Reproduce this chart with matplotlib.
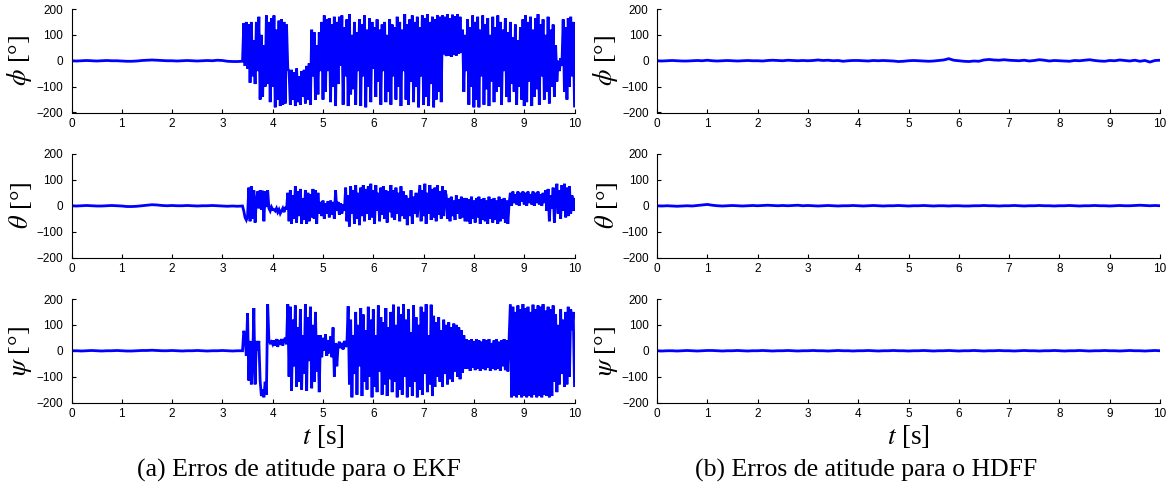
import numpy as np
import matplotlib
matplotlib.use("Agg")
import matplotlib.pyplot as plt

plt.rcParams['mathtext.fontset'] = 'stix'
plt.rcParams['font.family'] = ['Liberation Sans', 'DejaVu Sans']

# ---------------------------------------------------------------------------
# Attitude errors [deg]
# EKF: quiet phase sampled every 0.1 s from 0 to 3.4 s, then a divergent
# phase sampled every 0.025 s from 3.425 s to 10 s.
# HDFF: sampled every 0.1 s from 0 to 10 s.
# ---------------------------------------------------------------------------
ekf_phi_quiet = [0, -1, 0, 1, 0, -1, 0, 1, 0, 0, -1, -2, -2, -1, 1, 2, 3, 2,
                 1, 0, 0, -1, 0, 1, 0, -1, 0, 1, 0, 2, 1, -2, -3, -3, -2]
ekf_theta_quiet = [0, -1, 0, 1, 0, -1, -1, 0, 1, 0, -1, -3, -3, -2, 0, 2, 4, 3,
                   1, 0, 1, 0, 0, 1, 0, -1, 0, 0, 1, 0, -1, -2, -1, -2, -1]
ekf_psi_quiet = [0, 0, -1, 0, 1, 0, -1, 0, 0, 1, 0, -1, -1, 0, 1, 1, 2, 1,
                 0, 0, 1, 0, -1, 0, 0, 1, 0, -1, 0, 0, 1, 0, -1, 0, 0]

ekf_phi_div = [
    145, -20, 150, -30, 140, -85, 150, -60, 80, -90, 150, -40,
    170, -150, 100, -140, 60, -100, 175, -90, 150, -160, 165, -100,
    175, -180, 120, -150, 155, -175, 160, -170, 150, -165, 140, -30,
    -40, -170, -35, -150, -45, -175, -30, -160, -60, -170, -40, -140,
    -35, -165, -20, -150, -10, -170,
    120, -60, 110, -150, 60, -130, 110, -40, 150, -150,
    175, -120, 160, -40, 165, -160, 140, -100, 170, -175,
    150, -90, 170, -20, 175, -170, 130, -60, 160, -175,
    180, -130, 100, -110, 150, -170, 110, -40, 160, -175,
    140, -60, 175, -180, 120, -100, 165, -160, 150, -30,
    130, -140, 160, -80, 120, -170, 140, -40, 150, -160,
    100, -120, 160, -170, 140, -60, 130, -150, 170, -100,
    150, -175, 120, -40, 180, -150, 140, -170, 160, -80,
    175, -160, 150, -100, 170, -180, 130, -60, 175, -170,
    165, -140, 180, -175, 150, -90, 170, -180, 160, -150,
    175, -120, 170, -160,
    175, 25, 170, 18, 180, 20, 165, 15, 178, 22, 172, 20, 180, 28, 170, 30,
    120, -120, 100, -40, 160, -170, 130, -100, 175, -180,
    150, -150, 170, -180, 120, -60, 175, -170, 140, -110,
    165, -175, 100, -80, 170, -160, 130, -120, 175, -100,
    150, -170, 120, -40, 165, -140, 110, -160, 150, -90,
    90, -120, 140, -170, 80, -100, 130, -150, 160, -175,
    175, -160, 150, -80, 170, -175, 120, -140, 165, -110,
    180, -170, 140, -60, 160, -150, 100, -120, 170, -165,
    120, -100, 140, -140, 60, -80, 0, -40, 10, -20,
    160, -120, 130, -150, 165, -100, 170, -60, 150, -175,
]

ekf_theta_div = [
    -20, -45, -55, -40,
    70, -60, 75, -50, 60, -65, 20,
    55, -10, 60, -15, 58, -60, 55, -5, 60,
    -10, -20, -5, -15,
    -15, -20, -10, -25, -15, -30, -20, -10, -25, -5, -15,
    50, -60, 60, -70, 40, -50, 75, -65, 55, -40, 65, -70, 30, -55, 60, -70,
    50, -60, 45, -45,
    65, -50, 60, -70, 50, -30,
    15, -40, 20, -50, 10, -30, 18, -45, 20, -35, 15, -50,
    60, -20, 15, -35, 10, -30, 5, -20,
    70, -60, 40, -80, 75, -30, 60, -70, 80, -50, 50, -75, 70, -40, 80, -60,
    65, -30, 75, -55, 85, -45, 60, -70, 80, -20, 50, -60, 70, -35, 75, -50,
    60, -65, 55, -25, 80, -45, 60, -55, 70, -30, 50, -60, 75, -40, 55, -50,
    40, -75, 30, -40, 60, -70, 35, -30, 50, -45, 20,
    80, -60, 60, -40, 85, -70, 50, -30, 80, -55, 65, -45, 70, -60, 80, -35,
    55, -50, 75, -40, 60,
    40, -50, 30, -60, 35, -40, 20, -55, 40, -30, 25, -50, 35, -45, 30, -60,
    30, -60, 25, -70, 35, -50, 20, -65, 30, -45, 35, -70, 25, -55, 30, -60,
    20, -70, 35, -50, 25, -65, 30, -55, 20, -70, 35, -60, 25, -50, 30, -65,
    20, -70, 10,
    50, 0, 55, 10, 45, 5, 55, 0, 50, 15, 55, 5, 50, 0, 55, 10, 45, 5, 55, 0,
    50, 10, 55, 5, 45, 0, 50, 10,
    60, -20, 65, -60, 40, -10, 70, -65, 30,
    85, -30, 60, -50, 80, -20, 85, -45, 70, -40, 75, -30, 40, -20, 25,
]

ekf_psi_div = [
    77, 60, -20,
    145, -115, 38, -130, -60,
    165, -130, 38, 0, 38,
    -115, -175, -150, -180, -120, -170,
    180, 40, 30,
    35, 25, 40, 20, 45, 15, 35, 30, 45, 20, 40, 50, 25,
    180, -100, 170, -155, 120, -60, 175, -140, 90, -120, 160, -150, 60, -90,
    180, -155, 130, -40, 170, -145, 100, -120, 150, -80, 60, -160,
    60, -25, 50, 0, 63, -20, 40, -10, 55, -25,
    90, -100, 30, -60, 20,
    35, 10, 30, 5, 38, 15, 25,
    172, -130, 120, -180, 60, -90, 150, -170, 100, -60, 165, -175, 140, -120,
    80, -150, 170, -100, 120, -180, 160, -140, 60, -160, 175, -80, 130, -170,
    110, -130, 165, -175, 90, -110, 150, -160, 178, -120, 100, -180, 170,
    -150, 140,
    -170, 180, -100, 120, -180, 160, -140, 70, -175, 175, -120, 130, -180,
    100, -150, 170, -170, 150, -90, 180, -160, 60, -130, 178, -175,
    135, -140, 110, -100, 130, -120, 80, -140, 120, -90, 100, -130, 110,
    -110, 90, -120, 105, -80, 100, -100, 90, -110, 80, -85, 60, -70,
    45, -70, 40, -78, 45, -65, 38, -75, 45, -70, 40, -78, 35, -70, 45, -75,
    40, -65, 45, -78, 30, -70, 40, -75, 45, -70, 35, -78, 40, -60, 45,
    -75, 40, -80, 45,
    180, -180, 170, -175, 150, -180, 175, -170, 160, -180, 180, -175, 165,
    -180, 170, -175, 150, -180, 178, -170, 160, -180, 175, -175, 170, -180,
    180, -170, 155, -175, 170, -180, 160, -175, 175, -120, 140, -160, 100,
    -130, 160, -90, 120, -140, 150,
    -130, 170, -100, 160, 80, 150, -135,
]

hdff_phi = [0, -1, 0, 1, 0, -1, -1, 0, 1, 0, 2, 0, -1, 0, 1, 0, -1, 0, 1, 0,
            0, -1, 1, 2, 1, 0, 2, 1, 0, 1, 0, 1, 3, 1, 2, 0, 1, -2, 0, 1,
            1, 0, -1, 1, 0, 1, 0, -1, -3, -2, 0, 1, 0, -1, -2, -1, 1, 3, 8, 2,
            0, -2, -3, -1, -2, 3, 5, 3, 2, 4, 2, 1, 0, 2, -1, 1, 4, 2, -1, 1,
            0, -1, -2, 1, 0, 2, 4, 1, -1, -2, 1, 0, 3, 1, -1, 2, -2, 1, -5, 1, 2]
hdff_theta = [0, -1, 0, -1, -2, -1, 0, -1, 1, 3, 5, 2, 0, -1, 0, 1, 0, -1, 0, 1,
              0, 1, 2, 1, 0, 1, 0, 1, 2, 0, 1, 0, -1, 0, 1, 0, -1, 0, 0, 1,
              0, -1, 0, 1, 0, -1, 0, 0, 1, 0, -1, 0, 0, 1, 0, -1, 0, 0, -1, 0,
              0, -1, -1, 0, 0, 1, 0, 0, -1, 0, 0, 1, 0, -1, 0, 0, 1, 0, 0, -1,
              0, 0, 1, 0, -1, 0, 0, 1, 0, 0, -1, 0, 1, 0, 0, 1, 2, 1, 0, 1, 0]
hdff_psi = [0, -1, 0, 0, -1, 0, 1, 0, -1, 0, 1, 1, 0, -1, 0, 0, 1, 0, -1, 0,
            0, 1, 0, -1, 0, 0, 1, 0, -1, 0, 0, 1, 0, 0, -1, 0, 1, 0, 0, -1,
            0, 0, 1, 0, -1, 0, 0, 1, 0, 0, -1, 0, 0, 1, 0, -1, 0, 0, 1, 0,
            -1, 0, 0, 1, 0, -1, 0, 0, 1, 0, 0, -1, 0, 1, 0, 0, -1, 0, 0, 1,
            0, -1, 0, 0, 1, 0, -1, 0, 0, 1, 0, 0, -1, 0, 1, 0, 0, -1, 0, 1, 0]

angle_labels = [r'$\phi$ [°]', r'$\theta$ [°]', r'$\psi$ [°]']
y_ticks = [-200, -100, 0, 100, 200]
x_ticks = [0, 1, 2, 3, 4, 5, 6, 7, 8, 9, 10]
captions = ['(a) Erros de atitude para o EKF', '(b) Erros de atitude para o HDFF']
time_label = r'$t$ [s]'

T_SWITCH = 3.4
T_END = 10.0
DT_DIV = 0.025


def ekf_series(quiet, div):
    tq = np.linspace(0.0, T_SWITCH, len(quiet))
    td = np.linspace(T_SWITCH + DT_DIV, T_END, len(div))
    return np.concatenate([tq, td]), np.concatenate([quiet, div])


def hdff_series(vals):
    return np.linspace(0.0, T_END, len(vals)), np.asarray(vals, float)


left_series = [ekf_series(ekf_phi_quiet, ekf_phi_div),
               ekf_series(ekf_theta_quiet, ekf_theta_div),
               ekf_series(ekf_psi_quiet, ekf_psi_div)]
right_series = [hdff_series(hdff_phi), hdff_series(hdff_theta), hdff_series(hdff_psi)]

W, H = 1167, 493
fig = plt.figure(figsize=(W / 100, H / 100), dpi=100)

col_x = [71.5, 657.0]      # left edge of each column [px]
ax_w = 503.0
row_top = [9.0, 154.0, 299.0]
ax_h = 103.5

serif = ['Liberation Serif', 'DejaVu Serif']

for c, series in enumerate([left_series, right_series]):
    for r, (t, y) in enumerate(series):
        ax = fig.add_axes([col_x[c] / W, 1 - (row_top[r] + ax_h) / H,
                           ax_w / W, ax_h / H])
        ax.plot(t, y, color='#0000FF', lw=2.0, solid_joinstyle='miter')
        ax.set_xlim(0, 10)
        ax.set_ylim(-200, 200)
        ax.set_xticks(x_ticks)
        ax.set_yticks(y_ticks)
        ax.set_yticklabels([str(v).replace('-', '\u2212') for v in y_ticks])
        for s in ('top', 'right'):
            ax.spines[s].set_visible(False)
        for s in ('left', 'bottom'):
            ax.spines[s].set_linewidth(0.8)
        ax.tick_params(direction='in', length=3, width=0.8, labelsize=8.5)
        ax.tick_params(axis='x', pad=4)
        ax.tick_params(axis='y', pad=6)
        ax.set_ylabel(angle_labels[r], fontsize=19, family=serif)
        ax.yaxis.set_label_coords(-0.074, 0.5)

    cx = (col_x[c] + ax_w / 2) / W
    fig.text(cx, 1 - 437 / H, time_label, ha='center', va='center',
             fontsize=19.5, family=serif)

fig.text(299 / W, 1 - 470 / H, captions[0], ha='center', va='center',
         fontsize=18.5, family=serif)
fig.text(866 / W, 1 - 470 / H, captions[1], ha='center', va='center',
         fontsize=18.5, family=serif)

fig.savefig('out.png', dpi=100)
